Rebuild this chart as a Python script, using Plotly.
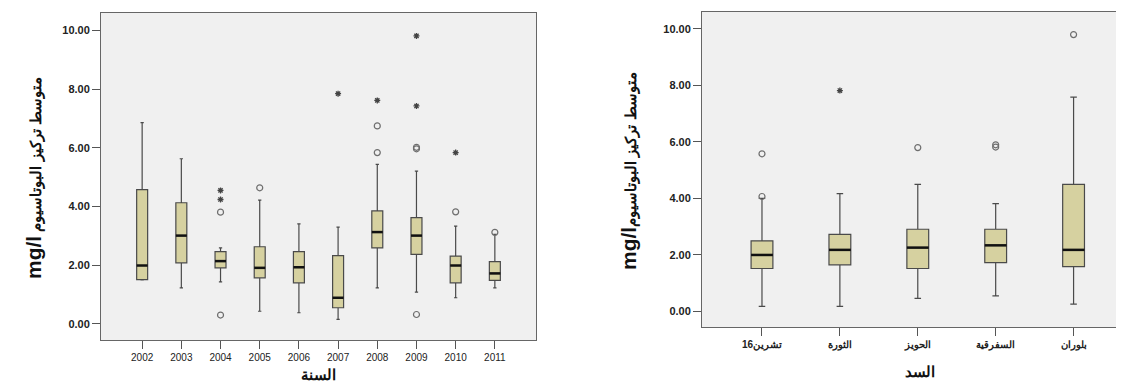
import plotly.graph_objects as go

# ---------------- data: left panel (years) ----------------
years = ["2002", "2003", "2004", "2005", "2006", "2007", "2008", "2009", "2010", "2011"]
yr_q1 = [1.51, 2.08, 1.91, 1.57, 1.40, 0.55, 2.59, 2.37, 1.40, 1.48]
yr_med = [1.99, 3.01, 2.14, 1.91, 1.93, 0.89, 3.13, 3.01, 1.99, 1.72]
yr_q3 = [4.58, 4.13, 2.46, 2.63, 2.46, 2.33, 3.85, 3.62, 2.31, 2.12]
yr_lo = [1.50, 1.23, 1.43, 0.43, 0.38, 0.15, 1.23, 1.08, 0.89, 1.23]
yr_hi = [6.86, 5.63, 2.59, 4.22, 3.41, 3.30, 5.44, 5.21, 3.33, 3.05]
yr_out_circle = [[], [], [3.81, 0.30], [4.64], [], [], [5.84, 6.75], [5.97, 6.02, 0.32], [3.82], [3.12]]
yr_out_star = [[], [], [4.55, 4.24], [], [], [7.85], [7.62], [7.43, 9.82], [5.84], []]

# ---------------- data: right panel (dams) ----------------
dams = ["16تشرين", "الثورة", "الحويز", "السفرقية", "بلوران"]
dm_q1 = [1.52, 1.65, 1.52, 1.73, 1.59]
dm_med = [2.00, 2.18, 2.26, 2.34, 2.18]
dm_q3 = [2.50, 2.73, 2.91, 2.91, 4.50]
dm_lo = [0.18, 0.18, 0.46, 0.55, 0.26]
dm_hi = [4.00, 4.17, 4.50, 3.82, 7.59]
dm_out_circle = [[4.07, 5.58], [], [5.80], [5.82, 5.90], [9.80]]
dm_out_star = [[], [7.82], [], [], []]

y_ticks = [0, 2, 4, 6, 8, 10]
y_ticktext = ["0.00", "2.00", "4.00", "6.00", "8.00", "10.00"]

BOX_FILL = "#d6d1a0"
BOX_LINE = "#4a4a4a"
BG = "#f0f0f0"
FONT = "Liberation Sans, Arial, sans-serif"
BOX_W = 0.28

fig = go.Figure()


def add_panel(cats, q1, med, q3, lo, hi, oc, os_, xa, ya):
    idx = list(range(len(cats)))
    fig.add_trace(go.Box(
        x=idx, q1=q1, median=med, q3=q3, lowerfence=lo, upperfence=hi,
        width=BOX_W, whiskerwidth=0.3, fillcolor=BOX_FILL,
        line=dict(color=BOX_LINE, width=1.2), boxpoints=False,
        xaxis=xa, yaxis=ya, showlegend=False, hoverinfo="skip",
    ))
    # thick median lines
    mx, my = [], []
    for i, m in zip(idx, med):
        mx += [i - BOX_W / 2, i + BOX_W / 2, None]
        my += [m, m, None]
    fig.add_trace(go.Scatter(x=mx, y=my, mode="lines",
                             line=dict(color="#111111", width=2.5),
                             xaxis=xa, yaxis=ya, showlegend=False, hoverinfo="skip"))
    # outliers
    cx, cy, sx, sy = [], [], [], []
    for i in idx:
        for v in oc[i]:
            cx.append(i); cy.append(v)
        for v in os_[i]:
            sx.append(i); sy.append(v)
    fig.add_trace(go.Scatter(x=cx, y=cy, mode="markers",
                             marker=dict(symbol="circle-open", size=6, color="#6e6e6e",
                                         line=dict(color="#6e6e6e", width=1.2)),
                             xaxis=xa, yaxis=ya, showlegend=False, hoverinfo="skip"))
    fig.add_trace(go.Scatter(x=sx, y=sy, mode="markers",
                             marker=dict(symbol="asterisk-open", size=5, color="#444444",
                                         line=dict(color="#444444", width=1.3)),
                             xaxis=xa, yaxis=ya, showlegend=False, hoverinfo="skip"))


add_panel(years, yr_q1, yr_med, yr_q3, yr_lo, yr_hi, yr_out_circle, yr_out_star, "x", "y")
add_panel(dams, dm_q1, dm_med, dm_q3, dm_lo, dm_hi, dm_out_circle, dm_out_star, "x2", "y2")

W, H = 1124, 382

common_x = dict(showgrid=False, zeroline=False, showline=True, linecolor="#666666",
                linewidth=1, mirror=True, ticks="outside", ticklen=8, tickcolor="#555555",
                tickfont=dict(family=FONT, size=10, color="#222222"))
common_y = dict(showgrid=False, zeroline=False, showline=True, linecolor="#666666",
                linewidth=1, mirror=True, ticks="outside", ticklen=8, tickcolor="#555555",
                tickvals=y_ticks, ticktext=["<b>%s</b>" % t for t in y_ticktext],
                tickfont=dict(family=FONT, size=11, color="#222222"),
                range=[-0.55, 10.6])

fig.update_layout(
    width=W, height=H,
    margin=dict(l=0, r=0, t=0, b=0),
    paper_bgcolor="white",
    plot_bgcolor=BG,
    xaxis=dict(domain=[93 / W, 528 / W], range=[-1.05, 10.05],
               tickvals=list(range(len(years))), ticktext=years, **common_x),
    yaxis=dict(domain=[1 - 332 / H, 1 - 5 / H], anchor="x", **common_y),
    xaxis2=dict(domain=[694 / W, 1.0], range=[-0.77, 4.75], anchor="y2",
                tickvals=list(range(len(dams))),
                ticktext=["<b>%s</b>" % d for d in dams], **common_x),
    yaxis2=dict(domain=[1 - 319 / H, 1 - 4 / H], anchor="x2", **common_y),
)

title_left = ("<span style='font-size:21px'><b>mg/l</b></span> "
              "<b>متوسط تركيز البوتاسيوم</b>")
title_right = ("<span style='font-size:21px'><b>mg/l</b></span>"
               "<b>متوسط تركيز البوتاسيوم</b>")

annos = [
    dict(text=title_left, x=25 / W, y=1 - 170 / H, textangle=-90),
    dict(text=title_right, x=620 / W, y=1 - 163 / H, textangle=-90),
    dict(text="<b>السنة</b>", x=310 / W, y=1 - 366 / H, textangle=0),
    dict(text="<b>السد</b>", x=912 / W, y=1 - 363 / H, textangle=0),
]
for a in annos:
    fig.add_annotation(xref="paper", yref="paper", showarrow=False,
                       xanchor="center", yanchor="middle",
                       font=dict(family=FONT, size=15, color="#111111"), **a)

fig.write_html("out.html")
